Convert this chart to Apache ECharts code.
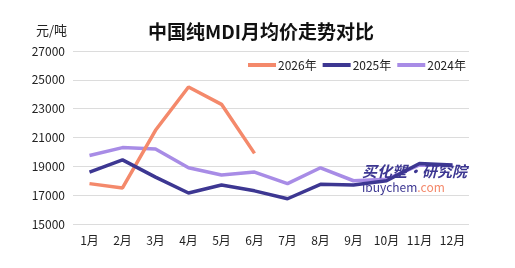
<!DOCTYPE html>
<html><head><meta charset="utf-8">
<script src="https://cdn.jsdelivr.net/npm/echarts@6/dist/echarts.min.js"></script>
<style>html,body{margin:0;padding:0;background:#fff}#c{width:515px;height:268px}</style>
</head><body><div id="c"></div>
<script>
const months = ['1月','2月','3月','4月','5月','6月','7月','8月','9月','10月','11月','12月'];
const s2026 = [17800, 17500, 21500, 24500, 23300, 19900];
const s2025 = [18600, 19450, 18250, 17150, 17700, 17300, 16750, 17750, 17700, 18000, 19200, 19100];
const s2024 = [19750, 20300, 20200, 18900, 18400, 18600, 17800, 18900, 18000, 18100, 19100, 19050];
const seriesNames = ['2026年','2025年','2024年'];
const colors = ['#F4896B','#3D3792','#A88CE6'];
const chart = echarts.init(document.getElementById('c'));
const font = '"Microsoft YaHei","Noto Sans CJK SC",sans-serif';
chart.setOption({
  animation:false,
  color: colors,
  title:{text:'中国纯MDI月均价走势对比', left:256, top:17, textAlign:'center',
    textStyle:{fontSize:19,fontWeight:'bold',color:'#111',fontFamily:font}},
  legend:{top:54, left:243, itemWidth:28, itemHeight:4, itemGap:6, icon:'rect',
    textStyle:{fontSize:12,color:'#222',fontFamily:font,padding:[0,0,0,-3]},
    data:seriesNames},
  grid:{left:73, right:46, top:51, bottom:44},
  xAxis:{type:'category', data:months, boundaryGap:true,
    axisLine:{show:false}, axisTick:{show:false},
    axisLabel:{fontSize:12,color:'#222',fontFamily:font,margin:10}},
  yAxis:{type:'value', min:15000, max:27000, interval:2000,
    axisLabel:{fontSize:12,color:'#222',fontFamily:font,margin:8,formatter:function(v){return String(v);}},
    splitLine:{lineStyle:{color:'#dcdcdc',width:1}}},
  series:[
    {name:seriesNames[0], type:'line', data:s2026, symbol:'none', lineStyle:{width:3.5}, z:3},
    {name:seriesNames[1], type:'line', data:s2025, symbol:'none', lineStyle:{width:3.5}, z:3},
    {name:seriesNames[2], type:'line', data:s2024, symbol:'none', lineStyle:{width:3.5}, z:2}
  ],
  graphic:[
    {type:'text', left:36, top:24, z:10, style:{text:'元/吨', fontSize:13, fill:'#222', fontFamily:font}},
    {type:'text', left:362, top:164, z:10, style:{text:'买化塑·研究院', fontSize:15, fontWeight:'bold', fontStyle:'italic', fill:'#3D3792', fontFamily:font}},
    {type:'text', left:362, top:181, z:10, style:{rich:{a:{fontSize:12,fill:'#3D3792',fontFamily:font},b:{fontSize:12,fill:'#F4896B',fontFamily:font}}, text:'{a|ibuychem}{b|.com}'}}
  ]
});
</script></body></html>
